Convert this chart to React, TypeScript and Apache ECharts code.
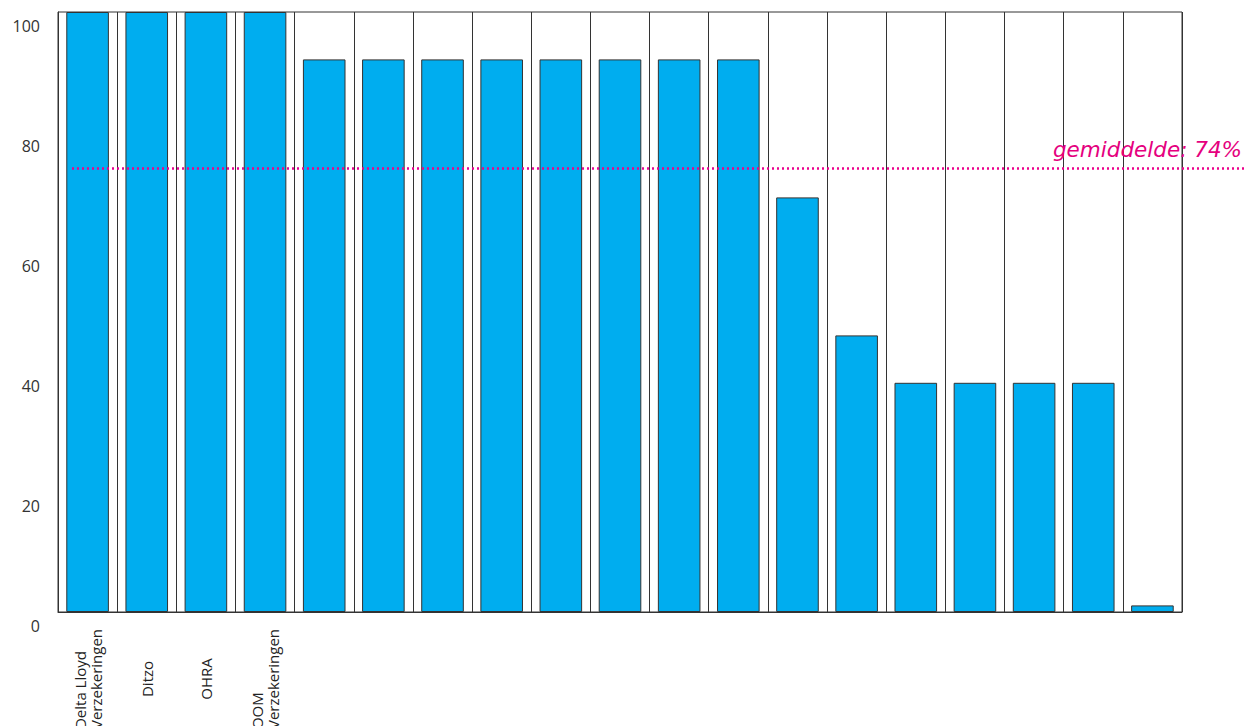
import React, { useEffect, useRef } from "react";
import * as echarts from "echarts";

const categories: string[] = [
  "Delta Lloyd\nVerzekeringen",
  "Ditzo",
  "OHRA",
  "OOM\nVerzekeringen",
  "", "", "", "", "", "", "", "", "", "", "", "", "", "", "",
];

const scores: number[] = [
  100, 100, 100, 100,
  92.1, 92.1, 92.1, 92.1, 92.1, 92.1, 92.1, 92.1,
  69.1, 46.1,
  38.2, 38.2, 38.2, 38.2,
  1.1,
];

const averageValue = 73.9;
const averageLabel = "gemiddelde: 74%";
const yTicks = { min: 0, max: 100, interval: 20 };

export default function App() {
  const ref = useRef<HTMLDivElement>(null);

  useEffect(() => {
    document.body.style.margin = "0";
    if (!ref.current) return;
    const chart = echarts.init(ref.current, undefined, { renderer: "svg" });
    chart.setOption({
      animation: false,
      backgroundColor: "#ffffff",
      grid: [
        {
          left: 58,
          right: 65,
          top: 12,
          bottom: 114,
          outerBoundsMode: "none",
          containLabel: false,
          show: true,
          borderColor: "#333333",
          borderWidth: 1,
          backgroundColor: "transparent",
        },
        {
          left: 72,
          right: 0,
          top: 12,
          bottom: 114,
          outerBoundsMode: "none",
          containLabel: false,
        },
      ],
      xAxis: [
        {
          type: "category",
          gridIndex: 0,
          data: categories,
          boundaryGap: true,
          axisLine: { show: true, lineStyle: { color: "#333333", width: 1 } },
          axisTick: { show: false },
          splitLine: {
            show: true,
            interval: 0,
            lineStyle: { color: "#333333", width: 1 },
          },
          axisLabel: {
            interval: 0,
            rotate: 90,
            align: "center",
            verticalAlign: "middle",
            margin: 67,
            formatter: (v: string) =>
              v
                .split("\n")
                .map((l) => (l ? `{a|${l}}` : ""))
                .join("\n"),
            rich: {
              a: {
                align: "left",
                fontFamily: "Open Sans",
                fontSize: 15,
                lineHeight: 16,
                color: "#222222",
              },
            },
          },
        },
        {
          type: "value",
          gridIndex: 1,
          min: 0,
          max: 1,
          show: false,
        },
      ],
      yAxis: [
        {
          type: "value",
          gridIndex: 0,
          min: yTicks.min,
          max: yTicks.max,
          interval: yTicks.interval,
          axisLine: { show: true, lineStyle: { color: "#333333" } },
          axisTick: { show: false },
          splitLine: { show: false },
          axisLabel: {
            margin: 18,
            fontFamily: "Open Sans",
            fontSize: 16,
            color: "#333333",
            verticalAlign: "top",
            lineHeight: 28,
          },
        },
        {
          type: "value",
          gridIndex: 1,
          min: yTicks.min,
          max: yTicks.max,
          show: false,
        },
      ],
      series: [
        {
          type: "bar",
          xAxisIndex: 0,
          yAxisIndex: 0,
          data: scores,
          barWidth: "72%",
          itemStyle: {
            color: "#00adef",
            borderColor: "#333333",
            borderWidth: 1,
          },
        },
        {
          type: "scatter",
          xAxisIndex: 1,
          yAxisIndex: 1,
          data: [[0, averageValue]],
          symbolSize: 0,
          silent: true,
          markLine: {
            silent: true,
            symbol: ["none", "none"],
            lineStyle: { color: "#ec008c", width: 2.5, type: [2, 3], opacity: 1 },
            label: {
              show: true,
              position: "insideEndTop",
              formatter: averageLabel,
              fontFamily: "DejaVu Sans",
              fontStyle: "italic",
              fontSize: 21.5,
              color: "#e5007e",
              distance: [5, 8],
            },
            data: [{ yAxis: averageValue }],
          },
        },
      ],
    });
    return () => chart.dispose();
  }, []);

  return <div ref={ref} style={{ width: 1247, height: 726 }} />;
}
